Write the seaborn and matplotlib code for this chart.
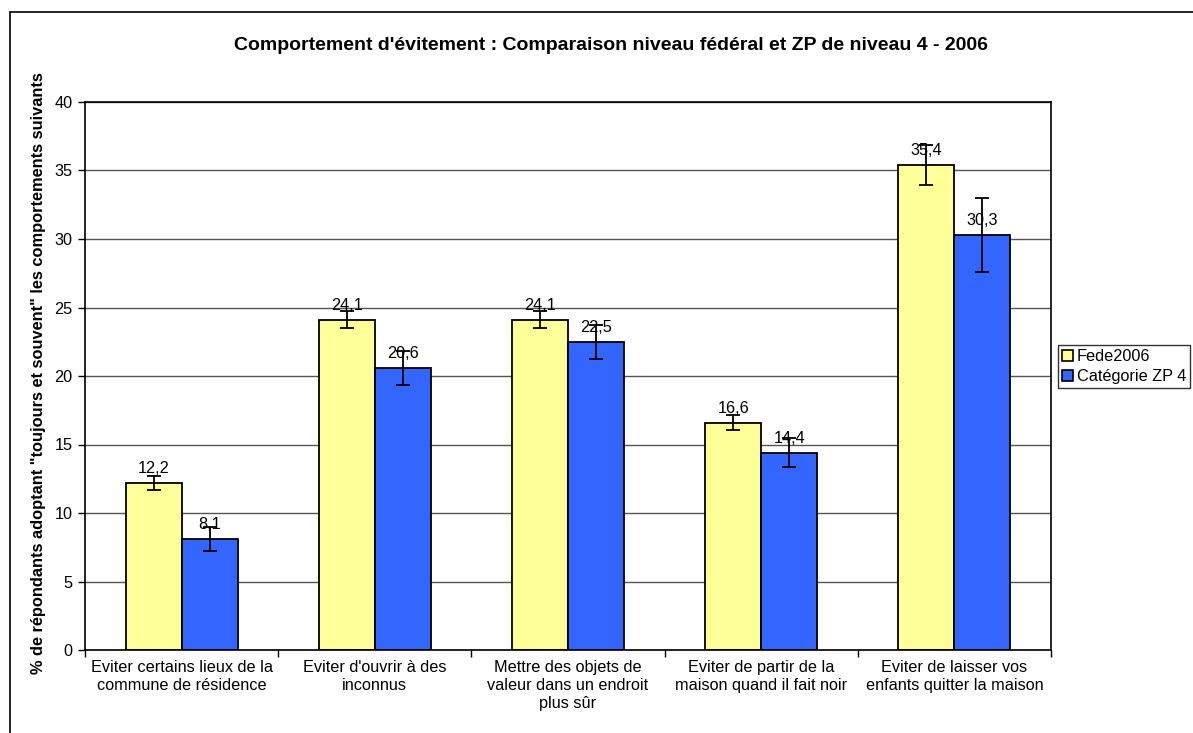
import matplotlib
matplotlib.use("Agg")
import matplotlib.pyplot as plt
import matplotlib.patches as mpatches
import seaborn as sns
import pandas as pd
import numpy as np

categories = [
    "Eviter certains lieux de la\ncommune de résidence",
    "Eviter d'ouvrir à des\ninconnus",
    "Mettre des objets de\nvaleur dans un endroit\nplus sûr",
    "Eviter de partir de la\nmaison quand il fait noir",
    "Eviter de laisser vos\nenfants quitter la maison",
]
series = ["Fede2006", "Catégorie ZP 4"]
fede_values = [12.2, 24.1, 24.1, 16.6, 35.4]
zp_values = [8.1, 20.6, 22.5, 14.4, 30.3]
fede_err = [0.5, 0.63, 0.62, 0.57, 1.45]
zp_err = [0.85, 1.25, 1.25, 1.05, 2.7]
yticks = [0, 5, 10, 15, 20, 25, 30, 35, 40]

title = "Comportement d'évitement : Comparaison niveau fédéral et ZP de niveau 4 - 2006"
ylabel = '% de répondants adoptant "toujours et souvent" les comportements suivants'
colors = ["#FFFF99", "#3366FF"]

sns.set_theme(style="white")
plt.rcParams['font.family'] = ['Liberation Sans', 'DejaVu Sans']
plt.rcParams['text.color'] = 'black'
plt.rcParams['axes.labelcolor'] = 'black'
plt.rcParams['xtick.color'] = 'black'
plt.rcParams['ytick.color'] = 'black'

df = pd.DataFrame({
    "cat": categories * 2,
    "serie": [series[0]] * 5 + [series[1]] * 5,
    "val": fede_values + zp_values,
    "err": fede_err + zp_err,
})

FS = 11.7
W, H = 1193, 733
fig = plt.figure(figsize=(W / 100, H / 100), dpi=100)
ax = fig.add_axes([85 / W, 1 - 650 / H, (1051 - 85) / W, (650 - 102) / H])

sns.barplot(data=df, x="cat", y="val", hue="serie", palette=colors,
            errorbar=None, width=0.58, edgecolor="black", linewidth=1.3,
            saturation=1, ax=ax, legend=False)

# error bars and value labels at bar centres
for container, vals, errs in zip(ax.containers, [fede_values, zp_values], [fede_err, zp_err]):
    xs = [p.get_x() + p.get_width() / 2 for p in container.patches]
    ax.errorbar(xs, vals, yerr=errs, fmt="none", ecolor="black",
                elinewidth=1.3, capsize=5, capthick=1.3, zorder=5)
    ax.bar_label(container, labels=[f"{v:.1f}".replace(".", ",") for v in vals],
                 padding=5, fontsize=FS, color="black", zorder=6)

ax.set_ylim(0, 40)
ax.set_xlim(-0.5, 4.5)
ax.set_yticks(yticks)
ax.set_yticklabels([str(t) for t in yticks], fontsize=FS)
ax.yaxis.grid(True, color="#555555", linewidth=1)
ax.set_axisbelow(True)
ax.tick_params(axis="y", direction="out", length=5, width=1, color="black", left=True, pad=4)
ax.set_xticks(range(5))
ax.set_xticklabels(categories, fontsize=FS, linespacing=1.25)
ax.tick_params(axis="x", which="major", length=0, pad=7)
ax.set_xticks(np.arange(-0.5, 5, 1), minor=True)
ax.tick_params(axis="x", which="minor", direction="out", length=5, width=1, color="black", bottom=True)
for s in ax.spines.values():
    s.set_color("black")
    s.set_linewidth(1.2)
ax.set_xlabel("")
ax.set_ylabel(ylabel, fontsize=11.8, fontweight="bold", color="black")
ax.yaxis.set_label_coords(-0.040, 0.505)

fig.text(611 / W, 1 - 45 / H, title, ha="center", va="center", fontsize=14,
         fontweight="bold", color="black")

handles = [mpatches.Patch(facecolor=c, edgecolor="black", linewidth=1.2) for c in colors]
leg = fig.legend(handles, series, loc="upper left", bbox_to_anchor=(1058 / W, 1 - 345 / H),
                 fontsize=FS, frameon=True, fancybox=False, edgecolor="black",
                 handlelength=0.7, handleheight=0.7, handletextpad=0.2,
                 borderpad=0.25, labelspacing=0.3, borderaxespad=0)
leg.get_frame().set_linewidth(1)

fig.patches.append(mpatches.Rectangle((10 / W, -0.1), 1.2, 1 - 12 / H + 0.1,
                                      transform=fig.transFigure, fill=False,
                                      edgecolor="black", linewidth=1.2))

fig.savefig("out.png", dpi=100, facecolor="white")
